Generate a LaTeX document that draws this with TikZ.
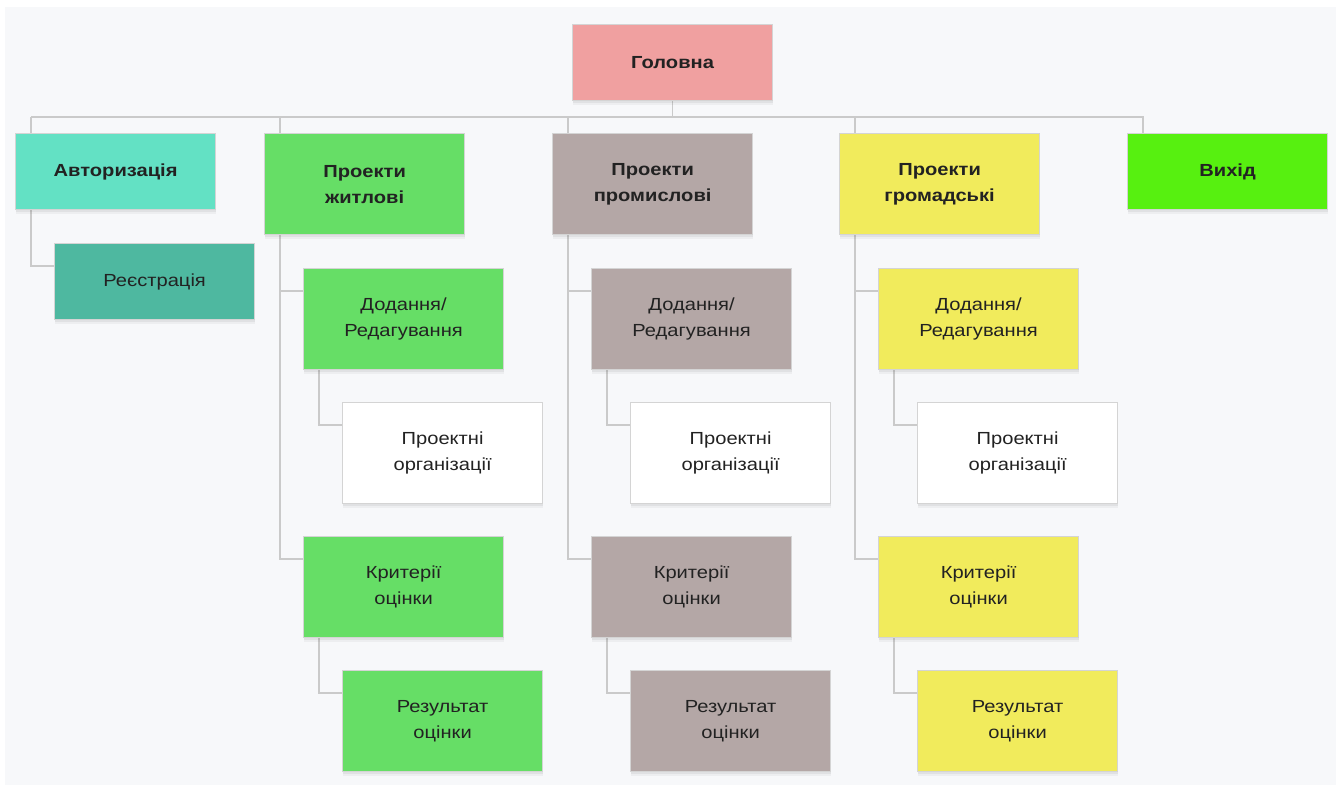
\documentclass[tikz,border=0pt]{standalone}
\usepackage{fontspec}
\setmainfont{Liberation Sans}[FakeStretch=1.15]
\usetikzlibrary{calc}

\definecolor{pagebg}{HTML}{F7F8FA}
\definecolor{boxline}{HTML}{D4D4D4}
\definecolor{connline}{HTML}{CACACA}
\definecolor{ink}{HTML}{222222}
\definecolor{cHome}{HTML}{F0A0A0}
\definecolor{cAuth}{HTML}{63E1C4}
\definecolor{cReg}{HTML}{4EB8A0}
\definecolor{cGreen}{HTML}{66DE66}
\definecolor{cBrown}{HTML}{B4A7A6}
\definecolor{cYellow}{HTML}{F1EB5C}
\definecolor{cExit}{HTML}{57F010}

\pgfdeclarelayer{back}
\pgfsetlayers{back,main}

\tikzset{
  softshadow/.style={
    preaction={fill=black, opacity=0.04, transform canvas={yshift=-4pt}},
    preaction={fill=black, opacity=0.05, transform canvas={yshift=-2pt}}},
  box/.style={draw=boxline, line width=1.2pt, anchor=north west,
    minimum width=200pt, minimum height=76pt, inner sep=0pt,
    align=center, text=ink, font=\fontsize{17.5}{26}\selectfont, softshadow},
  tall/.style={minimum height=101pt},
  head/.style={font=\bfseries\fontsize{17.5}{26}\selectfont},
  conn/.style={draw=connline, line width=1.5pt}
}

\begin{document}
\begin{tikzpicture}[x=1pt,y=-1pt]
\useasboundingbox (0,0) rectangle (1336,785);

% top level
\node[box, head, fill=cHome] (home) at (572,24) {Головна};
\node[box, head, fill=cAuth] (auth) at (15,133) {Авторизація};
\node[box, head, tall, fill=cGreen] (hous) at (264,133) {Проекти\\житлові};
\node[box, head, tall, fill=cBrown] (ind) at (552,133) {Проекти\\промислові};
\node[box, head, tall, fill=cYellow] (pub) at (839,133) {Проекти\\громадські};
\node[box, head, fill=cExit] (exit) at (1127,133) {Вихід};

% authorisation branch
\node[box, fill=cReg] (reg) at (54,243) {Реєстрація};

% housing branch
\node[box, tall, fill=cGreen] (housEdit) at (303,268) {Додання/\\Редагування};
\node[box, tall, fill=white] (housOrg) at (342,402) {Проектні\\організації};
\node[box, tall, fill=cGreen] (housCrit) at (303,536) {Критерії\\оцінки};
\node[box, tall, fill=cGreen] (housRes) at (342,670) {Результат\\оцінки};

% industrial branch
\node[box, tall, fill=cBrown] (indEdit) at (591,268) {Додання/\\Редагування};
\node[box, tall, fill=white] (indOrg) at (630,402) {Проектні\\організації};
\node[box, tall, fill=cBrown] (indCrit) at (591,536) {Критерії\\оцінки};
\node[box, tall, fill=cBrown] (indRes) at (630,670) {Результат\\оцінки};

% public branch
\node[box, tall, fill=cYellow] (pubEdit) at (878,268) {Додання/\\Редагування};
\node[box, tall, fill=white] (pubOrg) at (917,402) {Проектні\\організації};
\node[box, tall, fill=cYellow] (pubCrit) at (878,536) {Критерії\\оцінки};
\node[box, tall, fill=cYellow] (pubRes) at (917,670) {Результат\\оцінки};

\begin{pgfonlayer}{back}
  \fill[white] (0,0) rectangle (1336,785);
  \fill[pagebg] (5,7) rectangle (1336,785);

  % bus under the main page
  \coordinate (busL) at ($(auth.north west)+(16,-16)$);
  \coordinate (busR) at ($(exit.north west)+(16,-16)$);
  \draw[conn] (busL) -- (busR);
  \draw[conn] (home.south) -- (home.south |- busL);
  \foreach \n in {auth,hous,ind,pub,exit}
    \draw[conn] ($(\n.north west)+(16,0)$) |- (busL);

  % parent -> child elbows
  \foreach \p/\c in {auth/reg, hous/housEdit, hous/housCrit,
                     housEdit/housOrg, housCrit/housRes,
                     ind/indEdit, ind/indCrit,
                     indEdit/indOrg, indCrit/indRes,
                     pub/pubEdit, pub/pubCrit,
                     pubEdit/pubOrg, pubCrit/pubRes}
    \draw[conn] ($(\p.south west)+(16,0)$) |- ($(\c.north west)+(0,23)$);
\end{pgfonlayer}
\end{tikzpicture}
\end{document}
